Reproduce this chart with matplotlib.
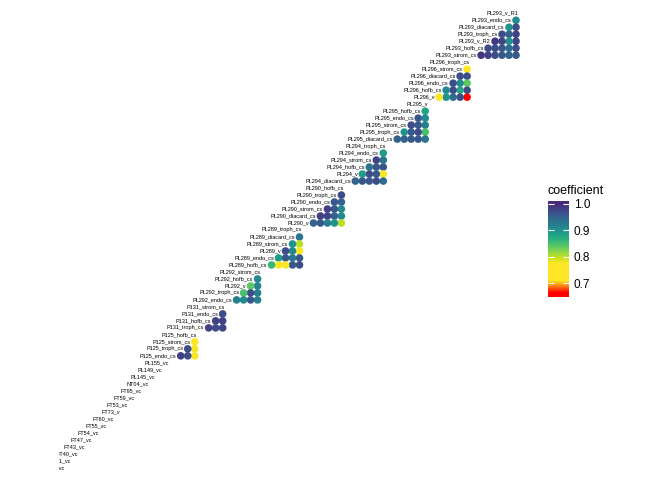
import matplotlib
matplotlib.use("Agg")
import matplotlib.pyplot as plt
import numpy as np
from matplotlib.colors import LinearSegmentedColormap, Normalize
from matplotlib.cm import ScalarMappable

plt.rcParams['font.family'] = ['Liberation Sans', 'DejaVu Sans']

# samples listed from top-right to bottom-left, grouped by individual
pl293 = ["PL293_v_R1", "PL293_endo_cs", "PL293_diacard_cs", "PL293_troph_cs",
         "PL293_v_R2", "PL293_hofb_cs", "PL293_strom_cs"]
pl296 = ["PL296_troph_cs", "PL296_strom_cs", "PL296_diacard_cs", "PL296_endo_cs",
         "PL296_hofb_cs", "PL296_v"]
pl295 = ["PL295_v", "PL295_hofb_cs", "PL295_endo_cs", "PL295_strom_cs",
         "PL295_troph_cs", "PL295_diacard_cs"]
pl294 = ["PL294_troph_cs", "PL294_endo_cs", "PL294_strom_cs", "PL294_hofb_cs",
         "PL294_v", "PL294_diacard_cs"]
pl290 = ["PL290_hofb_cs", "PL290_troph_cs", "PL290_endo_cs", "PL290_strom_cs",
         "PL290_diacard_cs", "PL290_v"]
pl289 = ["PL289_troph_cs", "PL289_diacard_cs", "PL289_strom_cs", "PL289_v",
         "PL289_endo_cs", "PL289_hofb_cs"]
pl292 = ["PL292_strom_cs", "PL292_hofb_cs", "PL292_v", "PL292_troph_cs", "PL292_endo_cs"]
p131 = ["P131_strom_cs", "P131_endo_cs", "P131_hofb_cs", "P131_troph_cs"]
p125 = ["P125_hofb_cs", "P125_strom_cs", "P125_troph_cs", "P125_endo_cs"]
singles = ["PL155_vc", "PL149_vc", "PL145_vc", "NT04_vc", "FT95_vc", "FT59_vc",
           "FT53_vc", "FT73_v", "FT60_vc", "FT55_vc", "FT54_vc", "FT47_vc",
           "FT43_vc", "FT40_vc", "FT41_vc", "FT36_vc"]

# coefficients: row r holds values against samples 0..r-1 of the same group
pl293_r = [[0.91],
           [0.97, 0.90],
           [0.98, 0.95, 0.97],
           [0.98, 0.90, 0.98, 0.99],
           [0.97, 0.94, 0.96, 0.97, 0.97],
           [0.96, 0.95, 0.96, 0.97, 0.98, 0.99]]
pl296_r = [[0.75],
           [0.97, 0.97],
           [0.84, 0.91, 0.97],
           [0.97, 0.88, 0.97, 0.91],
           [0.66, 0.97, 0.94, 0.90, 0.74]]
pl295_r = [[0.88],
           [0.91, 0.96],
           [0.92, 0.96, 0.97],
           [0.85, 0.97, 0.96, 0.90],
           [0.93, 0.96, 0.96, 0.95, 0.95]]
pl294_r = [[0.89],
           [0.93, 0.98],
           [0.96, 0.96, 0.93],
           [0.76, 0.96, 0.97, 0.89],
           [0.94, 0.97, 0.96, 0.96, 0.95]]
pl290_r = [[0.97],
           [0.95, 0.96],
           [0.91, 0.96, 0.98],
           [0.91, 0.95, 0.98, 0.98],
           [0.80, 0.90, 0.92, 0.96, 0.95]]
pl289_r = [[0.93],
           [0.80, 0.90],
           [0.76, 0.91, 0.97],
           [0.96, 0.93, 0.96, 0.89],
           [0.97, 0.96, 0.76, 0.75, 0.86]]
pl292_r = [[0.91],
           [0.92, 0.84],
           [0.92, 0.97, 0.85],
           [0.92, 0.96, 0.91, 0.92]]
p131_r = [[0.97],
          [0.98, 0.98],
          [0.98, 0.97, 0.98]]
p125_r = [[0.76],
          [0.78, 0.97],
          [0.76, 0.97, 0.98]]

groups = [(pl293, pl293_r), (pl296, pl296_r), (pl295, pl295_r), (pl294, pl294_r),
          (pl290, pl290_r), (pl289, pl289_r), (pl292, pl292_r), (p131, p131_r),
          (p125, p125_r)]

samples = sum([g for g, _ in groups], []) + singles
n = len(samples)

xs, ys, cs = [], [], []
start = 0
for names, rows in groups:
    for r, row in enumerate(rows, start=1):
        for c, v in enumerate(row):
            xs.append(n - 1 - (start + c))
            ys.append(n - 1 - (start + r))
            cs.append(v)
    start += len(names)

# red -> yellow -> reversed viridis
vmin, vmax = 0.650, 1.012
stop_vals = [0.650, 0.665, 0.71, 0.775]
stop_cols = ["#FF0000", "#FF0000", "#FDE725", "#FDE725"]
vir = plt.get_cmap("viridis")
for v in np.linspace(0.775, 1.0, 12)[1:]:
    stop_vals.append(v)
    stop_cols.append(vir(1.0 - (v - 0.775) / 0.225 * 0.88))
stop_vals.append(vmax)
stop_cols.append(stop_cols[-1])
pos = [(v - vmin) / (vmax - vmin) for v in stop_vals]
cmap = LinearSegmentedColormap.from_list("coef", list(zip(pos, stop_cols)))
norm = Normalize(vmin, vmax)

fig = plt.figure(figsize=(6.72, 4.8), dpi=100)
ax = fig.add_axes([0.0881, 0.0169, 0.686, 0.9642])
ax.scatter(xs, ys, c=cs, cmap=cmap, norm=norm, s=30, linewidths=0, zorder=2)
for i, name in enumerate(samples):
    p = n - 1 - i
    ax.text(p + 0.35, p, name, ha='right', va='center', fontsize=4,
            color='black', clip_on=True, zorder=3)
ax.set_xlim(-0.4, n - 0.4)
ax.set_ylim(-0.6, n - 0.4)
ax.axis('off')

# legend
fig.text(548 / 672, 1 - 191 / 480, "coefficient", ha='left', va='center', fontsize=9)
cax = fig.add_axes([548 / 672, (480 - 296.7) / 480, 21 / 672, 96 / 480])
cb = fig.colorbar(ScalarMappable(norm=norm, cmap=cmap), cax=cax)
cb.outline.set_visible(False)
cb.set_ticks([0.7, 0.8, 0.9, 1.0])
cb.set_ticklabels(["0.7", "0.8", "0.9", "1.0"])
cax.tick_params(direction='in', color='white', length=4, width=0.8,
                left=True, right=True, labelsize=8.5, pad=3.5)

fig.savefig("out.png", dpi=100)
